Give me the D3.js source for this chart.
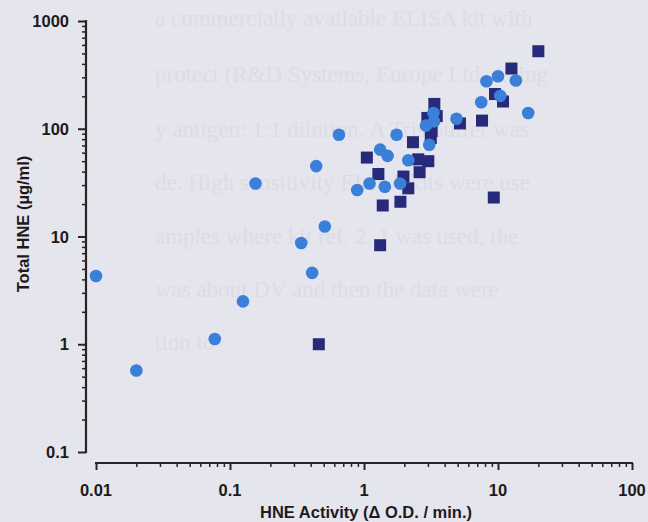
<!DOCTYPE html>
<html>
<head>
<meta charset="utf-8">
<script src="https://cdn.jsdelivr.net/npm/d3@7"></script>
<style>
  html, body { margin: 0; padding: 0; background: #e5e5ed; }
  svg { display: block; }
</style>
</head>
<body>
<div id="chart"></div>
<script>
// circles (light blue group)
const circleX = [0.01, 0.02, 0.077, 0.125, 0.155, 0.34, 0.41, 0.44, 0.51, 0.65, 0.89, 1.1, 1.32, 1.5, 1.43, 1.75, 1.86, 2.14, 2.9, 3.07, 3.3, 3.33, 4.9, 7.5, 8.2, 10, 10.4, 13.6, 16.8];
const circleY = [4.3, 0.57, 1.12, 2.5, 31, 8.7, 4.6, 45, 12.4, 88, 27, 31, 64, 56, 29, 88, 31, 51, 107, 71, 140, 117, 124, 176, 276, 307, 202, 280, 140];

// squares (dark navy group)
const squareX = [0.46, 1.05, 1.28, 1.32, 1.38, 1.87, 1.97, 2.14, 2.32, 2.54, 2.6, 3.02, 2.97, 3.15, 3.2, 3.35, 3.49, 5.2, 7.6, 9.5, 10.9, 12.6, 20, 9.3];
const squareY = [1.0, 54, 38, 8.3, 19.4, 21, 36, 28, 75, 52, 39.5, 50, 126, 82, 95, 170, 131, 112, 119, 210, 179, 362, 524, 23];

const xTicks = [0.01, 0.1, 1, 10, 100];
const yTicks = [0.1, 1, 10, 100, 1000];

// faint show-through of the scanned page behind the chart
const bleedLines = [
  "a commercially available ELISA kit with",
  "protect (R&D Systems, Europe Ltd, Abing",
  "y antigen: 1:1 dilution. A Tris buffer was",
  "de. High sensitivity ELISA kits were use",
  "amples where kit ref. 2. 1 was used, the",
  "was about DV and then the data were",
  "tion to"
];
const bleedY = [26, 82, 137, 190, 244, 297, 350];

const W = 648, H = 522;
const svg = d3.select("#chart").append("svg")
    .attr("width", W)
    .attr("height", H);

svg.append("rect").attr("width", W).attr("height", H).attr("fill", "#e5e5ed");

svg.append("g")
    .selectAll("text")
    .data(bleedLines)
    .enter().append("text")
    .attr("x", 155)
    .attr("y", (d, i) => bleedY[i])
    .style("font-family", "'Liberation Serif', serif")
    .style("font-size", "23px")
    .attr("fill", "#dcdce5")
    .text(d => d);

const x = d3.scaleLog().domain([0.01, 100]).range([96, 632]);
const y = d3.scaleLog().domain([0.1, 1000]).range([452, 21]);

const axisColor = "#2b2224";
const labelFont = "'Liberation Sans', Arial, sans-serif";

// y axis (offset left of the plot)
const yAxisX = 86;
const yAxis = svg.append("g")
    .attr("transform", `translate(${yAxisX},0)`)
    .call(d3.axisLeft(y)
        .tickValues(y.ticks())
        .tickSize(4)
        .tickFormat(""));
yAxis.select(".domain").remove();
yAxis.selectAll("line").attr("stroke", axisColor).attr("stroke-width", 1.5);
yAxis.selectAll(".tick")
    .filter(d => yTicks.includes(d))
    .select("line").attr("x2", -8).attr("stroke-width", 2);
svg.append("line")
    .attr("x1", yAxisX).attr("x2", yAxisX)
    .attr("y1", y(1000) - 1).attr("y2", y(0.1) + 1)
    .attr("stroke", axisColor).attr("stroke-width", 2.2);

svg.append("g")
    .selectAll("text")
    .data(yTicks)
    .enter().append("text")
    .attr("x", 69)
    .attr("y", d => y(d) + 6)
    .attr("text-anchor", "end")
    .style("font-family", labelFont)
    .style("font-weight", "bold")
    .style("font-size", "16.5px")
    .attr("fill", "#1e1a1c")
    .text(d => d);

// x axis (offset below the plot)
const xAxisY = 463;
const xAxis = svg.append("g")
    .attr("transform", `translate(0,${xAxisY})`)
    .call(d3.axisBottom(x)
        .tickValues(x.ticks())
        .tickSize(4)
        .tickFormat(""));
xAxis.select(".domain").remove();
xAxis.selectAll("line").attr("stroke", axisColor).attr("stroke-width", 1.5);
xAxis.selectAll(".tick")
    .filter(d => xTicks.includes(d))
    .select("line").attr("y2", 7).attr("stroke-width", 2);
svg.append("line")
    .attr("x1", x(0.01) - 1).attr("x2", x(100) + 1)
    .attr("y1", xAxisY).attr("y2", xAxisY)
    .attr("stroke", axisColor).attr("stroke-width", 2.2);

svg.append("g")
    .selectAll("text")
    .data(xTicks)
    .enter().append("text")
    .attr("x", d => x(d))
    .attr("y", 496)
    .attr("text-anchor", "middle")
    .style("font-family", labelFont)
    .style("font-weight", "bold")
    .style("font-size", "16.5px")
    .attr("fill", "#1e1a1c")
    .text(d => d);

// axis titles
svg.append("text")
    .attr("transform", `translate(29,224) rotate(-90)`)
    .attr("text-anchor", "middle")
    .style("font-family", labelFont)
    .style("font-weight", "bold")
    .style("font-size", "16.5px")
    .attr("fill", "#1e1a1c")
    .text("Total HNE (\u00b5g/ml)");

svg.append("text")
    .attr("x", 366)
    .attr("y", 518)
    .attr("text-anchor", "middle")
    .style("font-family", labelFont)
    .style("font-weight", "bold")
    .style("font-size", "16.5px")
    .attr("fill", "#1e1a1c")
    .text("HNE Activity (\u0394 O.D. / min.)");

// points: squares first, circles drawn over them
const sq = 12;
svg.append("g")
    .selectAll("rect")
    .data(squareX.map((v, i) => ({ x: v, y: squareY[i] })))
    .enter().append("rect")
    .attr("x", d => x(d.x) - sq / 2)
    .attr("y", d => y(d.y) - sq / 2)
    .attr("width", sq)
    .attr("height", sq)
    .attr("fill", "#27297a");

svg.append("g")
    .selectAll("circle")
    .data(circleX.map((v, i) => ({ x: v, y: circleY[i] })))
    .enter().append("circle")
    .attr("cx", d => x(d.x))
    .attr("cy", d => y(d.y))
    .attr("r", 6.3)
    .attr("fill", "#3a7fd8");
</script>
</body>
</html>
